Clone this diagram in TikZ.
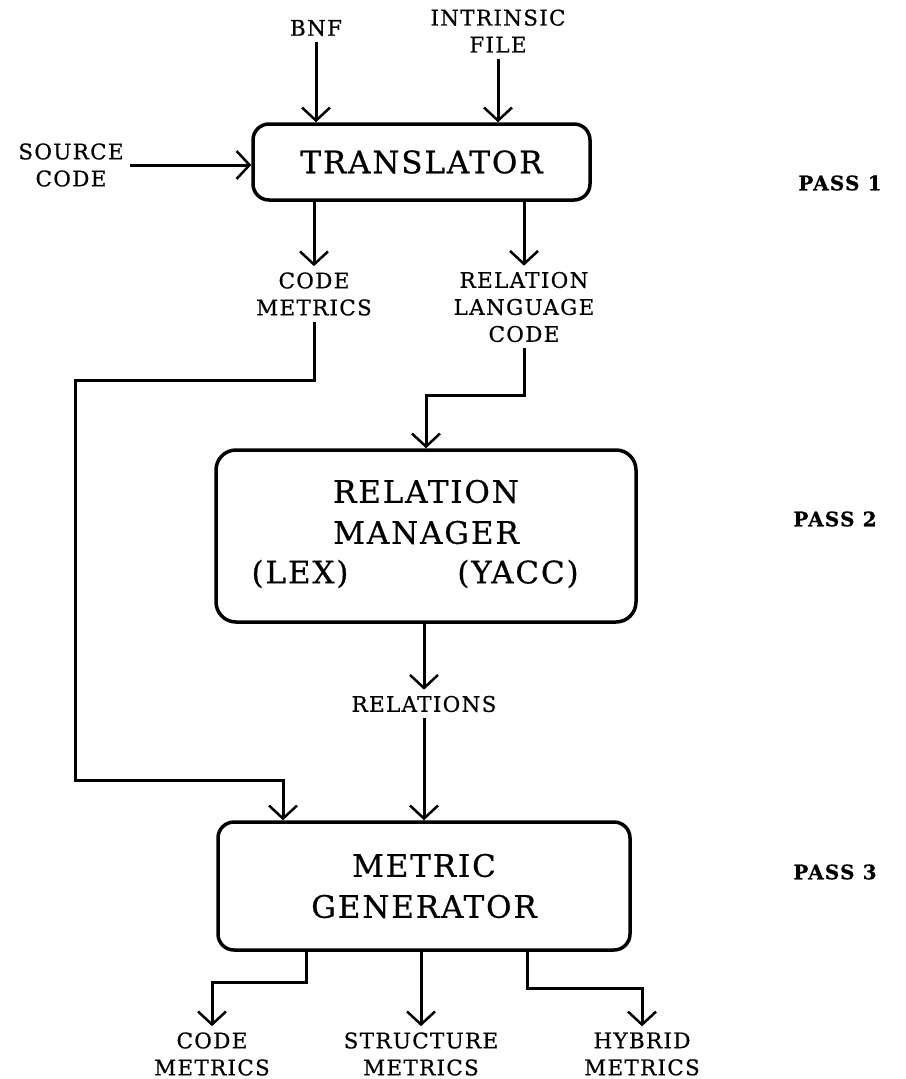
\documentclass[tikz,border=0pt]{standalone}
\usepackage{fontspec}
\usetikzlibrary{arrows.meta}
\newfontfamily\labfont[LetterSpace=6,FakeBold=0.6]{DejaVu Serif}
\begin{document}
\begin{tikzpicture}[x=1pt,y=-1pt,
  box/.style={draw, line width=3.5pt, rounded corners=16pt, align=center,
    font=\labfont\fontsize{31}{41}\selectfont, inner sep=0pt},
  big/.style={align=center, font=\labfont\fontsize{31}{41}\selectfont, inner sep=0pt},
  lab/.style={align=center, font=\labfont\fontsize{21.5}{27}\selectfont, inner sep=6pt},
  pass/.style={font=\labfont\bfseries\fontsize{20}{24}\selectfont, inner sep=0pt},
  conn/.style={line width=3pt},
  arr/.style={conn, -{Straight Barb[length=13pt,width=28pt,line width=2.5pt]}}]
\useasboundingbox (0,0) rectangle (905,1079);

% boxes
\node[box, minimum width=337pt, minimum height=76pt] (tr) at (421.5,162) {TRANSLATOR};
\node[box, minimum width=420pt, minimum height=172pt, rounded corners=20pt] (rm) at (426,536) {};
\node[big] (rmt) at (426,512) {RELATION\\MANAGER};
\node[big] (lex) at (300,574) {(LEX)};
\node[big] (yacc) at (518,574) {(YACC)};
\node[box, minimum width=412pt, minimum height=128pt] (mg) at (424,886) {METRIC\\GENERATOR};

% labels
\node[lab] (bnf) at (316,28) {BNF};
\node[lab] (intr) at (498,31) {INTRINSIC\\FILE};
\node[lab] (src) at (71,165) {SOURCE\\CODE};
\node[lab] (cm) at (314,294) {CODE\\METRICS};
\node[lab] (rlc) at (524,307) {RELATION\\LANGUAGE\\CODE};
\node[lab] (rel) at (424,704) {RELATIONS};
\node[lab] (ocm) at (212,1054) {CODE\\METRICS};
\node[lab] (osm) at (421,1054) {STRUCTURE\\METRICS};
\node[lab] (ohm) at (642,1054) {HYBRID\\METRICS};

\node[pass] (p1) at (840,183) {PASS 1};
\node[pass] (p2) at (835,519) {PASS 2};
\node[pass] (p3) at (835,872) {PASS 3};

% connectors
\draw[arr] (bnf.south) -- (bnf.south |- tr.north);
\draw[arr] (intr.south) -- (intr.south |- tr.north);
\draw[arr] (src.east) -- (src.east -| tr.west);
\draw[arr] (tr.south -| cm) -- (cm.north);
\draw[arr] (tr.south -| rlc) -- (rlc.north);

\coordinate (cmturn) at (75,380);
\coordinate (cmin) at (283,780);
\draw[arr] (cm.south) |- (cmturn) |- (cmin) -- (cmin |- mg.north);

\coordinate (rlcturn) at (426,395);
\draw[arr] (rlc.south) |- (rlcturn) -- (rlcturn |- rm.north);

\draw[arr] (rm.south -| rel) -- (rel.north);
\draw[arr] (rel.south) -- (rel.south |- mg.north);

\coordinate (o1) at (306,982);
\coordinate (o3) at (527,988);
\draw[arr] (mg.south -| o1) -- (o1) -| (ocm.north);
\draw[arr] (mg.south -| osm) -- (osm.north);
\draw[arr] (mg.south -| o3) -- (o3) -| (ohm.north);
\end{tikzpicture}
\end{document}
